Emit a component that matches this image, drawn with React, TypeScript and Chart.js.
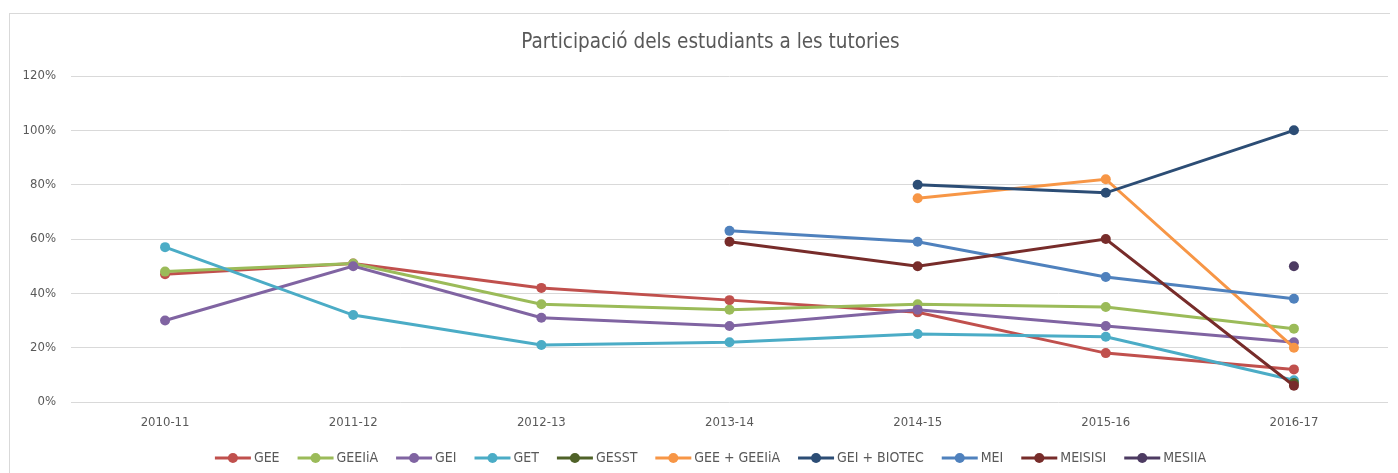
import React, { useEffect, useRef } from "react";
import { Chart, registerables } from "chart.js";

Chart.register(...registerables);

const categories = ["2010-11", "2011-12", "2012-13", "2013-14", "2014-15", "2015-16", "2016-17"];
const yTicks = [0, 20, 40, 60, 80, 100, 120];

const GEE = [47, 51, 42, 37.5, 33, 18, 12];
const GEEIiA = [48, 51, 36, 34, 36, 35, 27];
const GEI = [30, 50, 31, 28, 34, 28, 22];
const GET = [57, 32, 21, 22, 25, 24, 8];
const GESST = [null, null, null, null, null, null, 7];
const GEE_GEEIiA = [null, null, null, null, 75, 82, 20];
const GEI_BIOTEC = [null, null, null, null, 80, 77, 100];
const MEI = [null, null, null, 63, 59, 46, 38];
const MEISISI = [null, null, null, 59, 50, 60, 6];
const MESIIA = [null, null, null, null, null, null, 50];

const seriesNames = ["GEE", "GEEIiA", "GEI", "GET", "GESST", "GEE + GEEIiA", "GEI + BIOTEC", "MEI", "MEISISI", "MESIIA"];
const seriesData = [GEE, GEEIiA, GEI, GET, GESST, GEE_GEEIiA, GEI_BIOTEC, MEI, MEISISI, MESIIA];
const seriesColors = ["#C0504D", "#9BBB59", "#8064A2", "#4BACC6", "#4F6228", "#F79646", "#2C4D75", "#4F81BD", "#772C2A", "#4D3B62"];

const titleText = "Participació dels estudiants a les tutories";
const FONT = "'Liberation Sans Narrow', 'DejaVu Sans Condensed', 'Liberation Sans', sans-serif";
const TEXT_COLOR = "#595959";

const customPlugin = {
  id: "customDecor",
  afterDraw(chart: any) {
    const ctx = chart.ctx;
    ctx.save();
    // title
    ctx.fillStyle = TEXT_COLOR;
    ctx.font = `20.5px ${FONT}`;
    ctx.textAlign = "center";
    ctx.textBaseline = "middle";
    ctx.fillText(titleText, 700.5, 29);

    // legend
    ctx.font = `14px ${FONT}`;
    const lineLen = 36;
    const gapText = 3;
    const gapItem = 18;
    const widths = seriesNames.map((n) => lineLen + gapText + ctx.measureText(n).width);
    const total = widths.reduce((a, b) => a + b, 0) + gapItem * (seriesNames.length - 1);
    let x = 700.5 - total / 2;
    const y = 444;
    seriesNames.forEach((name, i) => {
      ctx.strokeStyle = seriesColors[i];
      ctx.lineWidth = 3;
      ctx.beginPath();
      ctx.moveTo(x, y);
      ctx.lineTo(x + lineLen, y);
      ctx.stroke();
      ctx.fillStyle = seriesColors[i];
      ctx.beginPath();
      ctx.arc(x + lineLen / 2, y, 5, 0, Math.PI * 2);
      ctx.fill();
      ctx.fillStyle = TEXT_COLOR;
      ctx.textAlign = "left";
      ctx.fillText(name, x + lineLen + gapText, y);
      x += widths[i] + gapItem;
    });
    ctx.restore();
  },
};

export default function App() {
  const ref = useRef<HTMLCanvasElement>(null);
  useEffect(() => {
    if (!ref.current) return;
    const chart = new Chart(ref.current, {
      type: "line",
      data: {
        labels: categories,
        datasets: seriesNames.map((name, i) => ({
          label: name,
          data: seriesData[i],
          borderColor: seriesColors[i],
          backgroundColor: seriesColors[i],
          pointBackgroundColor: seriesColors[i],
          pointBorderColor: seriesColors[i],
          borderWidth: 3,
          pointRadius: 5,
          pointBorderWidth: 0,
          spanGaps: false,
          tension: 0,
          order: 20 - i,
        })),
      },
      options: {
        responsive: false,
        animation: false,
        layout: { padding: { top: 62, right: 11, left: 0, bottom: 0 } },
        plugins: {
          legend: { display: false },
          title: { display: false },
          tooltip: { enabled: false },
        },
        scales: {
          x: {
            offset: true,
            grid: { display: false, drawTicks: false },
            border: { display: false },
            ticks: { color: TEXT_COLOR, font: { family: FONT, size: 13 }, padding: 13 },
            afterFit(scale: any) {
              scale.height = 71;
            },
          },
          y: {
            min: 0,
            max: 120,
            afterBuildTicks(scale: any) {
              scale.ticks = yTicks.map((v) => ({ value: v }));
            },
            grid: { color: "#d9d9d9", lineWidth: 1, drawTicks: false },
            border: { display: false },
            ticks: {
              color: TEXT_COLOR,
              font: { family: FONT, size: 13 },
              padding: 15,
              callback: (v: any) => `${v}%`,
            },
            afterFit(scale: any) {
              scale.width = 61;
            },
          },
        },
      },
      plugins: [customPlugin],
    });
    return () => chart.destroy();
  }, []);
  return (
    <div style={{ paddingTop: 5, paddingLeft: 1 }}>
      <div
        style={{
          borderLeft: "1px solid #d9d9d9",
          borderTop: "1px solid #d9d9d9",
          width: 1389,
          height: 459,
          background: "#fff",
        }}
      >
        <canvas ref={ref} width={1389} height={459} style={{ display: "block", width: 1389, height: 459 }} />
      </div>
    </div>
  );
}
